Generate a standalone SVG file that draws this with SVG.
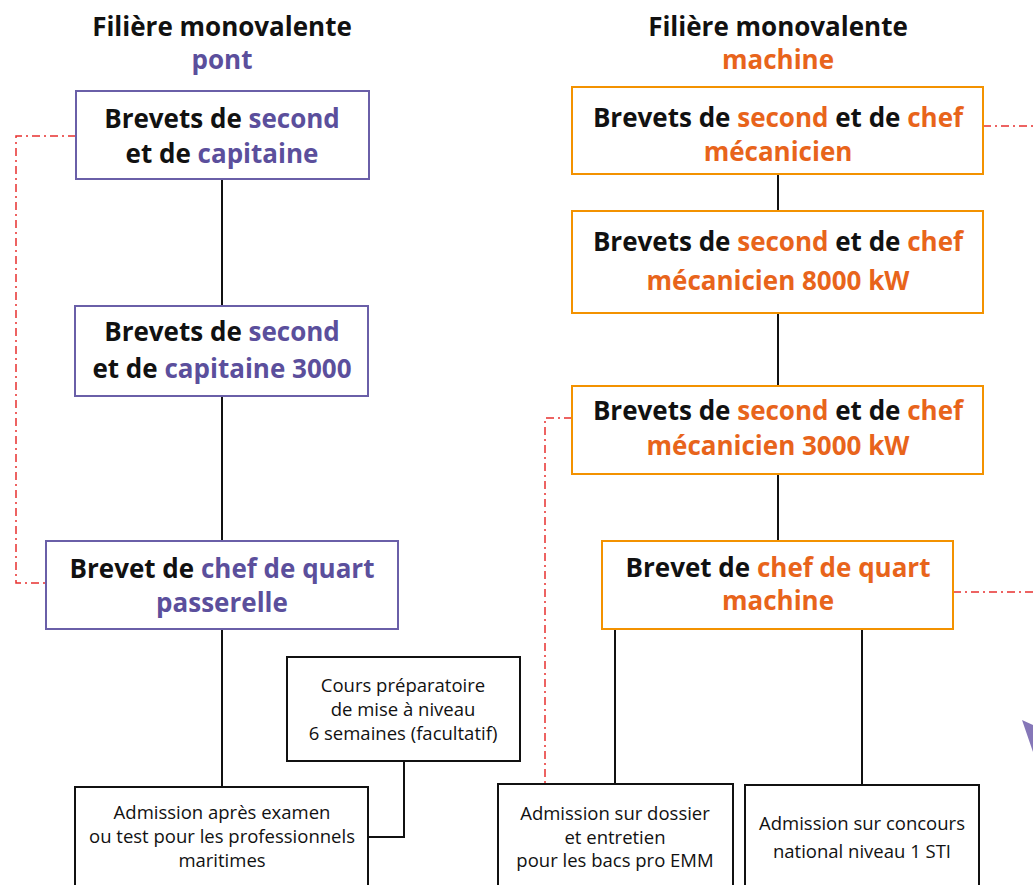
<svg xmlns="http://www.w3.org/2000/svg" width="1033" height="885" viewBox="0 0 1033 885">
<style>
text{font-family:"Open Sans","Noto Sans",sans-serif;text-anchor:middle}
.h{font-size:26px;font-weight:bold;fill:#111}
.b{font-size:26px;font-weight:bold;fill:#111}
.r{font-size:18.5px;fill:#111}
.p{fill:#5b4f9c}
.o{fill:#e8641b}
.bp{fill:#fff;stroke:#6a5fa8;stroke-width:2}
.bo{fill:#fff;stroke:#f39200;stroke-width:2}
.bk{fill:#fff;stroke:#111;stroke-width:2}
.ln{fill:none;stroke:#111;stroke-width:2}
.dd{fill:none;stroke:#e8312f;stroke-width:1.5;stroke-dasharray:8 4 2 4}
</style>
<g id="connectors">
<path class="ln" d="M222 179V306M222 396V541M222 629V787"/>
<path class="ln" d="M778 174V211M778 313V386M778 474V541"/>
<path class="ln" d="M615 629V785M862 629V785"/>
<path class="ln" d="M404 761V837H368"/>
<path class="dd" d="M76 136H16V583H46"/>
<path class="dd" d="M572 418H545V784"/>
<path class="dd" d="M983 126H1033"/>
<path class="dd" d="M953 592H1033"/>
</g>
<g id="title-pont">
<text class="h" x="222" y="36">Filière monovalente</text>
<text class="h p" x="222" y="69">pont</text>
</g>
<g id="title-machine">
<text class="h" x="778" y="36">Filière monovalente</text>
<text class="h o" x="778" y="69">machine</text>
</g>
<g id="p1">
<rect class="bp" x="76" y="91" width="293" height="88"/>
<text class="b" x="222" y="128">Brevets de <tspan class="p">second</tspan></text>
<text class="b" x="222" y="163">et de <tspan class="p">capitaine</tspan></text>
</g>
<g id="p2">
<rect class="bp" x="75" y="306" width="293" height="90"/>
<text class="b" x="222" y="341">Brevets de <tspan class="p">second</tspan></text>
<text class="b" x="222" y="378">et de <tspan class="p">capitaine 3000</tspan></text>
</g>
<g id="p3">
<rect class="bp" x="46" y="541" width="352" height="88"/>
<text class="b" x="222" y="578">Brevet de <tspan class="p">chef de quart</tspan></text>
<text class="b" x="222" y="612"><tspan class="p">passerelle</tspan></text>
</g>
<g id="m1">
<rect class="bo" x="572" y="87" width="411" height="87"/>
<text class="b" x="778" y="127">Brevets de <tspan class="o">second</tspan> et de <tspan class="o">chef</tspan></text>
<text class="b o" x="778" y="161">mécanicien</text>
</g>
<g id="m2">
<rect class="bo" x="572" y="211" width="411" height="102"/>
<text class="b" x="778" y="251">Brevets de <tspan class="o">second</tspan> et de <tspan class="o">chef</tspan></text>
<text class="b o" x="778" y="290">mécanicien 8000 kW</text>
</g>
<g id="m3">
<rect class="bo" x="572" y="386" width="411" height="88"/>
<text class="b" x="778" y="420">Brevets de <tspan class="o">second</tspan> et de <tspan class="o">chef</tspan></text>
<text class="b o" x="778" y="455">mécanicien 3000 kW</text>
</g>
<g id="m4">
<rect class="bo" x="602" y="541" width="351" height="88"/>
<text class="b" x="778" y="577">Brevet de <tspan class="o">chef de quart</tspan></text>
<text class="b o" x="778" y="610">machine</text>
</g>
<g id="cours">
<rect class="bk" x="287" y="657" width="233" height="104"/>
<text class="r" x="403" y="692">Cours préparatoire</text>
<text class="r" x="403" y="716">de mise à niveau</text>
<text class="r" x="403" y="740">6 semaines (facultatif)</text>
</g>
<g id="adm-examen">
<rect class="bk" x="75" y="787" width="293" height="110"/>
<text class="r" x="222" y="819">Admission après examen</text>
<text class="r" x="222" y="843">ou test pour les professionnels</text>
<text class="r" x="222" y="867">maritimes</text>
</g>
<g id="adm-dossier">
<rect class="bk" x="498" y="784" width="235" height="113"/>
<text class="r" x="615" y="820">Admission sur dossier</text>
<text class="r" x="615" y="844">et entretien</text>
<text class="r" x="615" y="867">pour les bacs pro EMM</text>
</g>
<g id="adm-concours">
<rect class="bk" x="745" y="785" width="234" height="112"/>
<text class="r" x="862" y="830">Admission sur concours</text>
<text class="r" x="862" y="858">national niveau 1 STI</text>
</g>
<polygon points="1022,720 1033,725 1033,752" fill="#8577b8"/>
</svg>
